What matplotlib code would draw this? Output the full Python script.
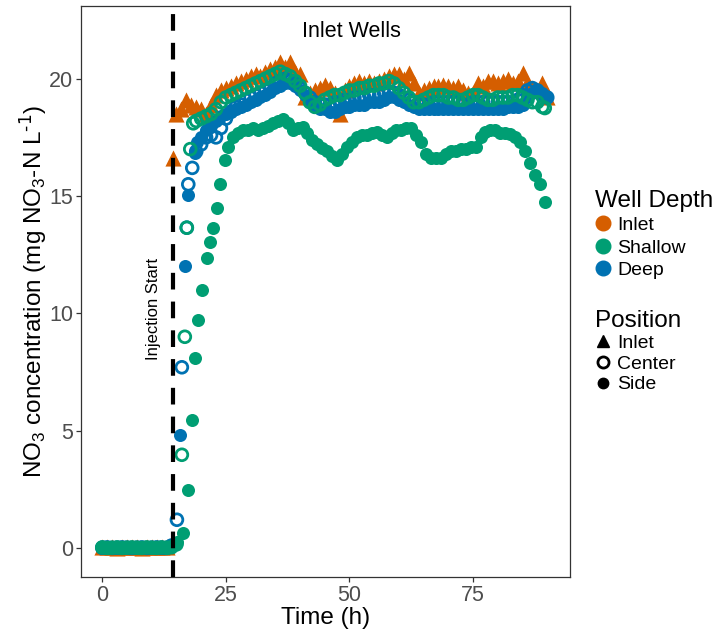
import matplotlib
matplotlib.use("Agg")
import matplotlib.pyplot as plt
from matplotlib.lines import Line2D

plt.rcParams['font.family'] = ['Liberation Sans', 'DejaVu Sans']
plt.rcParams['mathtext.default'] = 'regular'

# colours for well depth
depth_colors = {'Inlet': '#D55E00', 'Shallow': '#009E73', 'Deep': '#0072B2'}

injection_time = 14.3

# Inlet depth, inlet position (triangles)
inlet_t = [0, 1, 2, 3, 4, 5, 6, 7, 8, 9, 10, 11, 12, 13,
           14.3, 15, 16, 17, 18, 19, 20, 21, 22, 23, 24, 25, 26, 27, 28, 29,
           30, 31, 32, 33, 34, 35, 36, 37, 38, 39, 40, 41, 42, 43, 44, 45, 46, 47, 48, 49,
           50, 51, 52, 53, 54, 55, 56, 57, 58, 59, 60, 61, 62, 63, 64, 65, 66, 67, 68, 69,
           70, 71, 72, 73, 74, 75, 76, 77, 78, 79, 80, 81, 82, 83, 84, 85, 86, 87, 88, 89, 90]
inlet_y = [0.02, 0.03, 0.02, 0.01, 0.03, 0.02, 0.02, 0.03, 0.01, 0.02, 0.03, 0.02, 0.02, 0.03,
           16.6, 18.5, 18.7, 19.1, 18.9, 18.8, 18.7, 18.5, 18.9, 19.3, 19.5, 19.6, 19.7, 19.8, 19.9, 20.0,
           20.1, 20.2, 20.1, 20.3, 20.4, 20.5, 20.7, 20.5, 20.7, 20.3, 20.2, 19.2, 19.4, 19.5, 19.6, 19.75, 19.6, 19.4, 18.5, 19.5,
           19.7, 19.8, 19.9, 19.8, 19.9, 19.8, 19.9, 20.0, 20.1, 20.2, 20.2, 20.0, 20.25, 19.8, 19.4, 19.5, 19.6, 19.7, 19.7, 19.75,
           19.7, 19.6, 19.7, 19.5, 19.4, 19.4, 19.8, 19.7, 19.9, 19.9, 19.8, 19.9, 20.0, 19.8, 19.9, 20.25, 19.8, 19.6, 19.5, 19.8, 19.2]

# Deep depth, side position (filled)
deep_side_t = [0, 1, 2, 3, 4, 5, 6, 7, 8, 9, 10, 11, 12, 13, 14,
               15.8, 16.8, 17.4, 18.8, 19.2, 20, 21, 22, 23, 24, 25, 26, 27, 28, 29,
               30, 31, 32, 33, 34, 35, 36, 37, 38, 39, 40, 41, 42, 43, 44, 45, 46, 47, 48, 49,
               50, 51, 52, 53, 54, 55, 56, 57, 58, 59, 60, 61, 62, 63, 64, 65, 66, 67, 68, 69,
               70, 71, 72, 73, 74, 75, 76, 77, 78, 79, 80, 81, 82, 83, 84, 85, 86, 87, 88, 89, 90]
deep_side_y = [0.0, 0.01, 0.02, 0.0, 0.01, 0.02, 0.01, 0.0, 0.02, 0.01, 0.0, 0.02, 0.01, 0.02, 0.05,
               4.8, 12.0, 15.05, 16.85, 17.3, 17.5, 17.8, 18.0, 18.2, 18.4, 18.5, 18.6, 18.7, 18.8, 18.9,
               19.0, 19.1, 19.2, 19.3, 19.45, 19.6, 19.7, 19.8, 19.8, 19.7, 19.5, 19.3, 19.0, 18.8, 18.7, 18.7, 18.6, 18.6, 18.7, 18.8,
               18.8, 18.9, 18.9, 18.9, 19.0, 19.0, 19.0, 19.1, 19.2, 19.2, 19.1, 19.0, 18.9, 18.8, 18.7, 18.7, 18.7, 18.7, 18.7, 18.7,
               18.7, 18.7, 18.7, 18.7, 18.7, 18.7, 18.7, 18.7, 18.7, 18.7, 18.7, 18.7, 18.8, 18.8, 18.8, 18.9, 19.2, 19.4, 19.5, 19.4, 19.2]

# Deep depth, center position (hollow)
deep_center_t = [0, 1, 2, 3, 4, 5, 6, 7, 8, 9, 10, 11, 12, 13, 14,
                 15.1, 16.1, 17.1, 17.4, 18.2, 19, 20, 21, 22, 23, 24, 25, 26, 27, 28, 29,
                 30, 31, 32, 33, 34, 35, 36, 37, 38, 39, 40, 41, 42, 43, 44, 45, 46, 47, 48, 49,
                 50, 51, 52, 53, 54, 55, 56, 57, 58, 59, 60, 61, 62, 63, 64, 65, 66, 67, 68, 69,
                 70, 71, 72, 73, 74, 75, 76, 77, 78, 79, 80, 81, 82, 83, 84, 85, 86, 87, 88, 89, 90]
deep_center_y = [0.01, 0.02, 0.0, 0.01, 0.02, 0.01, 0.0, 0.01, 0.02, 0.0, 0.01, 0.02, 0.01, 0.0, 0.1,
                 1.2, 7.7, 13.65, 15.5, 16.2, 16.9, 17.2, 17.5, 17.6, 17.5, 17.9, 18.3, 18.6, 18.8, 18.9, 19.1,
                 19.2, 19.3, 19.4, 19.5, 19.6, 19.8, 19.9, 20.0, 19.9, 19.8, 19.6, 19.4, 19.2, 19.0, 18.9, 18.9, 18.9, 19.0, 19.0, 19.1,
                 19.1, 19.2, 19.2, 19.2, 19.3, 19.3, 19.3, 19.4, 19.4, 19.4, 19.3, 19.2, 19.1, 19.0, 18.9, 18.9, 18.9, 19.0, 19.0, 19.0,
                 19.0, 19.0, 19.0, 18.9, 18.9, 19.0, 19.0, 19.0, 19.0, 19.0, 19.0, 19.0, 19.0, 19.0, 19.1, 19.3, 19.5, 19.6, 19.5, 19.3, 19.2]

# Shallow depth, side position (filled)
shallow_side_t = [0, 1, 2, 3, 4, 5, 6, 7, 8, 9, 10, 11, 12, 13, 14, 15.2,
                  16.4, 17.4, 18.2, 18.8, 19.4, 20.2, 21.2, 21.8, 22.4, 23.2, 23.8, 24.8,
                  25.5, 26.5, 27.5, 28.5, 29.5, 30.5, 31.5, 32.5, 33.5, 34.5, 35.5, 36.5, 37.5, 38.5, 39.5,
                  40.5, 41.5, 42.5, 43.5, 44.5, 45.5, 46.5, 47.5, 48.5, 49.5, 50.5, 51.5, 52.5, 53.5, 54.5,
                  55.5, 56.5, 57.5, 58.5, 59.5, 60.5, 61.5, 62.5, 63.5, 64.5, 65.5, 66.5, 67.5, 68.5, 69.5,
                  70.5, 71.5, 72.5, 73.5, 74.5, 75.5, 76.5, 77.5, 78.5, 79.5, 80.5, 81.5, 82.5, 83.5, 84.5,
                  85.5, 86.5, 87.5, 88.5, 89.5]
shallow_side_y = [0.02, 0.01, 0.03, 0.02, 0.01, 0.02, 0.03, 0.01, 0.02, 0.02, 0.01, 0.03, 0.02, 0.01, 0.05, 0.25,
                  0.64, 2.47, 5.46, 8.1, 9.72, 11.0, 12.37, 13.05, 13.65, 14.5, 15.5, 16.55,
                  17.1, 17.5, 17.7, 17.8, 17.8, 17.9, 17.8, 17.9, 18.0, 18.1, 18.2, 18.3, 18.1, 17.8, 17.9,
                  17.95, 17.7, 17.4, 17.2, 17.05, 16.9, 16.7, 16.55, 16.8, 17.1, 17.3, 17.5, 17.6, 17.6, 17.7,
                  17.75, 17.6, 17.5, 17.7, 17.8, 17.8, 17.9, 17.9, 17.6, 17.3, 16.8, 16.6, 16.6, 16.6, 16.8,
                  16.9, 16.9, 17.0, 17.0, 17.1, 17.1, 17.5, 17.75, 17.8, 17.8, 17.7, 17.7, 17.65, 17.5, 17.3,
                  16.9, 16.4, 15.9, 15.5, 14.75]

# Shallow depth, center position (hollow)
shallow_center_t = [0, 1, 2, 3, 4, 5, 6, 7, 8, 9, 10, 11, 12, 13, 14, 15,
                    16.1, 16.7, 17.1, 17.8, 18.4, 19, 20, 21, 22, 23, 24, 25, 26, 27, 28, 29,
                    30, 31, 32, 33, 34, 35, 36, 37, 38, 39, 40, 41, 42, 43, 44, 45, 46, 47, 48, 49,
                    50, 51, 52, 53, 54, 55, 56, 57, 58, 59, 60, 61, 62, 63, 64, 65, 66, 67, 68, 69,
                    70, 71, 72, 73, 74, 75, 76, 77, 78, 79, 80, 81, 82, 83, 84, 85, 86, 87, 88, 89, 89.5]
shallow_center_y = [0.02, 0.0, 0.01, 0.02, 0.0, 0.01, 0.02, 0.01, 0.0, 0.02, 0.01, 0.0, 0.02, 0.01, 0.03, 0.15,
                    3.97, 9.0, 13.65, 17.0, 18.1, 18.2, 18.3, 18.4, 18.5, 18.7, 19.0, 19.2, 19.3, 19.4, 19.5, 19.6,
                    19.7, 19.8, 19.9, 20.0, 20.1, 20.2, 20.3, 20.2, 20.1, 19.9, 19.7, 19.4, 19.0, 18.8, 18.9, 19.1, 19.2, 19.3, 19.3, 19.4,
                    19.5, 19.5, 19.6, 19.6, 19.7, 19.7, 19.8, 19.8, 19.9, 19.8, 19.6, 19.4, 19.2, 19.0, 19.0, 19.1, 19.2, 19.3, 19.3, 19.3,
                    19.2, 19.2, 19.1, 19.1, 19.2, 19.3, 19.3, 19.2, 19.1, 19.1, 19.2, 19.2, 19.2, 19.3, 19.3, 19.2, 19.1, 19.0, 19.0, 18.8, 18.75]

fig = plt.figure(figsize=(7.21, 6.40), dpi=100)
ax = fig.add_axes([81 / 721, 1 - 577 / 640, 489 / 721, 571 / 640])

c_in, c_sh, c_dp = depth_colors['Inlet'], depth_colors['Shallow'], depth_colors['Deep']

ax.scatter(inlet_t, inlet_y, marker='^', s=135, color=c_in, linewidths=0, zorder=2)
ax.scatter(deep_side_t, deep_side_y, marker='o', s=88, color=c_dp, linewidths=0, zorder=3)
ax.scatter(deep_center_t, deep_center_y, marker='o', s=72, facecolors='none', edgecolors=c_dp,
           linewidths=2.0, zorder=3)
ax.scatter(shallow_side_t, shallow_side_y, marker='o', s=88, color=c_sh, linewidths=0, zorder=4)
ax.scatter(shallow_center_t, shallow_center_y, marker='o', s=72, facecolors='none', edgecolors=c_sh,
           linewidths=2.0, zorder=4)

ax.axvline(injection_time, color='black', lw=3, dashes=(4, 2.9), zorder=5)
ax.text(10.3, 10.2, 'Injection Start', rotation=90, ha='center', va='center', fontsize=12)
ax.text(50.3, 22.0, 'Inlet Wells', ha='center', va='center', fontsize=15.5)

ax.set_xlim(-4.3, 94.6)
ax.set_ylim(-1.24, 23.1)
ax.set_xticks([0, 25, 50, 75])
ax.set_yticks([0, 5, 10, 15, 20])

for sp in ax.spines.values():
    sp.set_color('#333333')
    sp.set_linewidth(0.9)
ax.tick_params(colors='#333333', labelcolor='#4D4D4D', labelsize=15.5, length=3.5, width=0.9, pad=2)

ax.set_xlabel('Time (h)', fontsize=17.5, labelpad=1)
ax.set_ylabel(r'NO$_3$ concentration (mg NO$_3$-N L$^{\text{-1}}$)', fontsize=17.5, labelpad=0)

# legends
depth_handles = [Line2D([], [], marker='o', linestyle='', color=depth_colors[k], markersize=10.5)
                 for k in ['Inlet', 'Shallow', 'Deep']]
leg1 = fig.legend(depth_handles, ['Inlet', 'Shallow', 'Deep'], title='Well Depth',
                  loc='upper left', bbox_to_anchor=(585 / 721, 1 - 180 / 640), frameon=False,
                  fontsize=14, title_fontsize=17.5, alignment='left', borderpad=0,
                  handlelength=0.8, handletextpad=0.35, labelspacing=0.25)

pos_handles = [Line2D([], [], marker='^', linestyle='', color='black', markersize=9),
               Line2D([], [], marker='o', linestyle='', markerfacecolor='white', markeredgecolor='black',
                      markeredgewidth=2, markersize=8),
               Line2D([], [], marker='o', linestyle='', color='black', markersize=7.5)]
leg2 = fig.legend(pos_handles, ['Inlet', 'Center', 'Side'], title='Position',
                  loc='upper left', bbox_to_anchor=(585 / 721, 1 - 300 / 640), frameon=False,
                  fontsize=14, title_fontsize=17.5, alignment='left', borderpad=0,
                  handlelength=0.8, handletextpad=0.35, labelspacing=0.15)

fig.savefig('out.png', dpi=100)
